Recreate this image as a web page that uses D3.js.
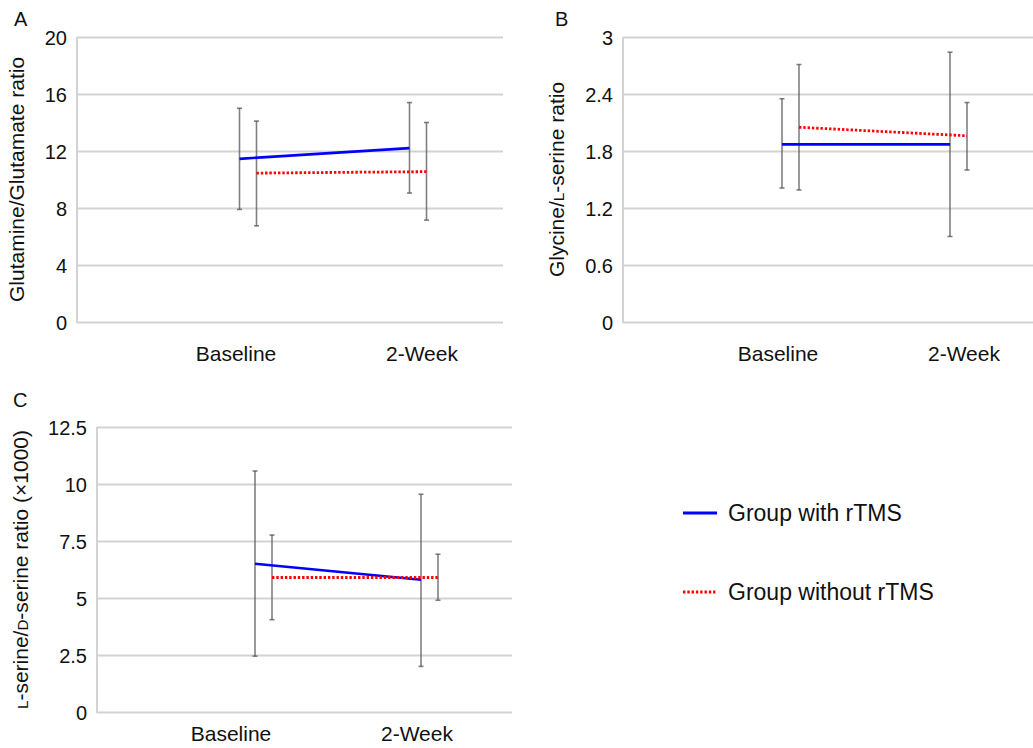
<!DOCTYPE html>
<meta charset="utf-8">
<style>
body { margin: 0; background: #fff; }
svg { font-family: "Liberation Sans", Arial, Helvetica, sans-serif; }
.grid line { stroke: #d3d3d3; stroke-width: 2px; }
.tick text { fill: #111; font-size: 20px; }
.cat { font-size: 21px; fill: #111; text-anchor: middle; }
.ttl { fill: #111; text-anchor: middle; }
.letter { font-size: 20px; fill: #111; }
.legend text { font-size: 23px; fill: #111; }
</style>
<svg width="1033" height="748"></svg>
<script src="https://d3js.org/d3.v7.min.js"></script>
<script>

var categories = ["Baseline", "2-Week"];

// A: glutamine / glutamate
var glnWith = [11.45, 12.2],   glnWithLo = [7.9, 9.05],  glnWithHi = [15.0, 15.4];
var glnWithout = [10.45, 10.55], glnWithoutLo = [6.75, 7.15], glnWithoutHi = [14.1, 14.0];
var glnTicks = [0, 4, 8, 12, 16, 20];

// B: glycine / L-serine
var glyWith = [1.87, 1.87],    glyWithLo = [1.41, 0.9],  glyWithHi = [2.35, 2.84];
var glyWithout = [2.05, 1.96], glyWithoutLo = [1.39, 1.6], glyWithoutHi = [2.71, 2.31];
var glyTicks = [0, 0.6, 1.2, 1.8, 2.4, 3];

// C: L-serine / D-serine (x1000)
var serWith = [6.5, 5.8],      serWithLo = [2.45, 2.0],  serWithHi = [10.57, 9.55];
var serWithout = [5.9, 5.9],   serWithoutLo = [4.05, 4.9], serWithoutHi = [7.76, 6.92];
var serTicks = [0, 2.5, 5, 7.5, 10, 12.5];

var seriesNames = ["Group with rTMS", "Group without rTMS"];

var svg = d3.select("svg");

var panels = [
  { letter: "A", lx: 14, ly: 26, left: 77, right: 503, top: 37, bottom: 322,
    ticks: glnTicks, fmt: d3.format("d"),
    data: [[glnWith, glnWithLo, glnWithHi], [glnWithout, glnWithoutLo, glnWithoutHi]],
    dataRange: [171, 341], labelRange: [159, 345], labelDy: 39,
    title: [["Glutamine/Glutamate ratio", 1]], titleX: 18 },
  { letter: "B", lx: 555, ly: 26, left: 623, right: 1033, top: 37, bottom: 322,
    ticks: glyTicks, fmt: function(d) { return String(d); },
    data: [[glyWith, glyWithLo, glyWithHi], [glyWithout, glyWithoutLo, glyWithoutHi]],
    dataRange: [167.5, 335.5], labelRange: [155, 341], labelDy: 39,
    title: [["Glycine/", 1], ["L", 0.72], ["-serine ratio", 1]], titleX: 558 },
  { letter: "C", lx: 13, ly: 407, left: 97, right: 512, top: 427, bottom: 712,
    ticks: serTicks, fmt: function(d) { return String(d); },
    data: [[serWith, serWithLo, serWithHi], [serWithout, serWithoutLo, serWithoutHi]],
    dataRange: [166.5, 332.5], labelRange: [134, 320], labelDy: 29,
    title: [["L", 0.72], ["-serine/", 1], ["D", 0.72], ["-serine ratio (\u00d71000)", 1]], titleX: 22 }
];

var colors = ["#0000ff", "#ff0000"];
var shift = [-8.5, 8.5];

panels.forEach(function(p) {
  var g = svg.append("g");
  var y = d3.scaleLinear()
      .domain([p.ticks[0], p.ticks[p.ticks.length - 1]])
      .range([p.bottom, p.top]);
  var x = d3.scalePoint().domain(categories)
      .range([p.left + p.dataRange[0], p.left + p.dataRange[1]]);
  var xl = d3.scalePoint().domain(categories)
      .range([p.left + p.labelRange[0], p.left + p.labelRange[1]]);

  // gridlines + tick labels
  var ax = g.append("g")
      .attr("class", "grid")
      .attr("transform", "translate(" + p.left + ",0)")
      .call(d3.axisLeft(y).tickValues(p.ticks).tickFormat(p.fmt)
        .tickSize(-(p.right - p.left)).tickPadding(10));
  ax.select(".domain").remove();
  ax.selectAll(".tick text").attr("dy", "0.36em");

  g.append("line")
      .attr("x1", p.left).attr("x2", p.left)
      .attr("y1", p.top).attr("y2", p.bottom + 1)
      .attr("stroke", "#d3d3d3").attr("stroke-width", 2);

  // category labels
  g.selectAll(".cat").data(categories).enter().append("text")
      .attr("class", "cat")
      .attr("x", function(d) { return xl(d); })
      .attr("y", p.bottom + p.labelDy)
      .text(function(d) { return d; });

  // error bars
  p.data.forEach(function(s, si) {
    categories.forEach(function(c, ci) {
      var cx = x(c) + shift[si];
      var eb = g.append("g").attr("stroke", "#555").attr("stroke-opacity", 0.75)
          .attr("stroke-width", 1.6);
      eb.append("line").attr("x1", cx).attr("x2", cx)
          .attr("y1", y(s[1][ci])).attr("y2", y(s[2][ci]));
      [s[1][ci], s[2][ci]].forEach(function(v) {
        eb.append("line").attr("x1", cx - 2.5).attr("x2", cx + 2.5)
            .attr("y1", y(v)).attr("y2", y(v));
      });
    });
  });

  // series lines
  p.data.forEach(function(s, si) {
    var line = d3.line()
        .x(function(d, i) { return x(categories[i]) + shift[si]; })
        .y(function(d) { return y(d); });
    g.append("path")
        .datum(s[0])
        .attr("fill", "none")
        .attr("stroke", colors[si])
        .attr("stroke-width", si === 0 ? 2.6 : 2.8)
        .attr("stroke-dasharray", si === 0 ? null : "2.4,1.9")
        .attr("d", line);
  });

  // axis title (with small-cap L / D)
  var t = g.append("text")
      .attr("class", "ttl")
      .attr("transform", "translate(" + p.titleX + "," + ((p.top + p.bottom) / 2) + ") rotate(-90)")
      .attr("dy", "0.35em");
  p.title.forEach(function(part) {
    t.append("tspan").style("font-size", (21 * part[1]) + "px").text(part[0]);
  });

  g.append("text").attr("class", "letter")
      .attr("x", p.lx).attr("y", p.ly).text(p.letter);
});

// legend
var legend = svg.append("g").attr("class", "legend");
seriesNames.forEach(function(name, i) {
  var ly = i === 0 ? 513 : 592;
  legend.append("line")
      .attr("x1", 683).attr("x2", 717)
      .attr("y1", ly).attr("y2", ly)
      .attr("stroke", colors[i])
      .attr("stroke-width", 3)
      .attr("stroke-dasharray", i === 0 ? null : "2.4,1.9");
  legend.append("text")
      .attr("x", 728).attr("y", ly)
      .attr("dy", "0.35em")
      .text(name);
});

</script>
